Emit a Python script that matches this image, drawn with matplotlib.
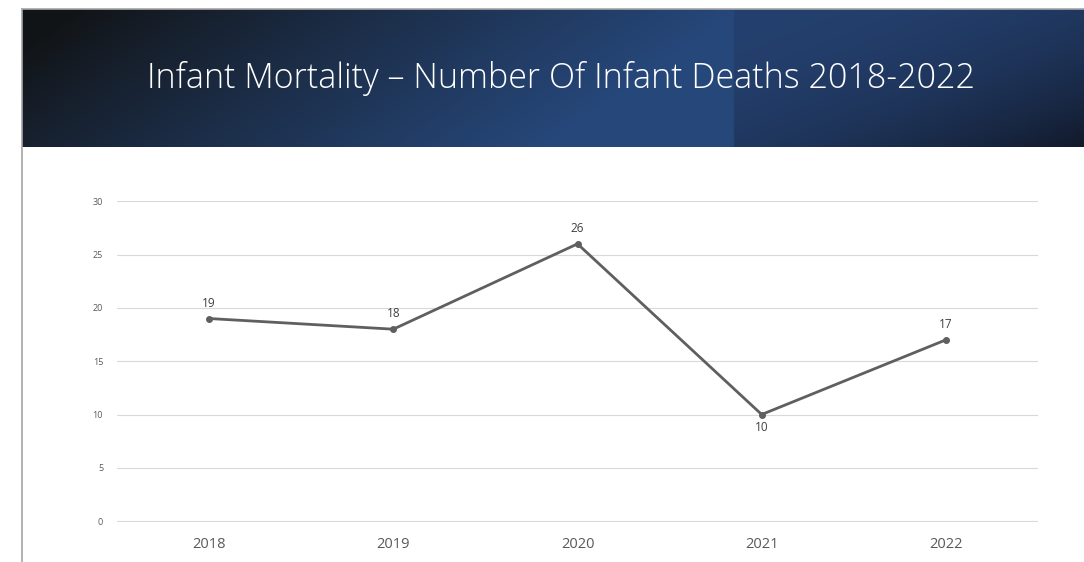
import numpy as np
import matplotlib.pyplot as plt
from matplotlib.lines import Line2D

years = ["2018", "2019", "2020", "2021", "2022"]
deaths = [19, 18, 26, 10, 17]
y_ticks = [0, 5, 10, 15, 20, 25, 30]
title = "Infant Mortality \u2013 Number Of Infant Deaths 2018-2022"

W, H = 1084, 562
fig = plt.figure(figsize=(W / 100, H / 100), dpi=100)
fig.patch.set_facecolor("white")

# banner with gradient
bx0, bx1, by0, by1 = 22, 1084, 9, 147
ban = fig.add_axes([bx0 / W, 1 - by1 / H, (bx1 - bx0) / W, (by1 - by0) / H])
ban.set_axis_off()
nx, ny = 540, 70
xs = np.linspace(bx0, bx1, nx)
ys = np.linspace(by0, by1, ny)
X, Y = np.meshgrid(xs, ys)
dark = np.array([0.07, 0.08, 0.09])
blue = np.array([0.15, 0.28, 0.48])
blue2 = np.array([0.14, 0.25, 0.43])
corner = np.array([0.07, 0.10, 0.17])
s = np.clip((X - 80 + (Y - 9) * 1.4) / 660, 0, 1)
s = s ** 0.9
img = dark[None, None, :] * (1 - s[..., None]) + blue[None, None, :] * s[..., None]
right = X > 735
r = np.clip(((X - 735) / 350) * 0.5 + ((Y - 9) / 138) * 0.5, 0, 1) ** 2.2
rimg = blue2[None, None, :] * (1 - r[..., None]) + corner[None, None, :] * r[..., None]
img[right] = rimg[right]
ban.imshow(img, aspect="auto", extent=[0, 1, 0, 1], origin="upper")
ban.set_xlim(0, 1)
ban.set_ylim(0, 1)

fig.text(561 / W, 1 - 79 / H, title, color="white", fontsize=24.5,
         family="Open Sans", fontweight="light", ha="center", va="center")

# borders
fig.add_artist(Line2D([bx0 / W, 1], [1 - 8.5 / H, 1 - 8.5 / H], color="#a6a6a6", lw=1.2))
fig.add_artist(Line2D([bx0 / W, bx0 / W], [0, 1 - 8.5 / H], color="#a6a6a6", lw=1.2))

# chart
ax = fig.add_axes([117 / W, 40 / H, (1038 - 117) / W, (522 - 201) / H])
x = np.arange(len(years))
ax.plot(x, deaths, color="#5f5f5f", lw=2, marker="o", ms=4, zorder=3)
for xi, v in zip(x, deaths):
    if v == min(deaths):
        ax.annotate(str(v), (xi, v), xytext=(0, -9.5), textcoords="offset points",
                    ha="center", va="center", fontsize=8.5, color="#404040", family="Open Sans")
    else:
        ax.annotate(str(v), (xi, v), xytext=(0, 11), textcoords="offset points",
                    ha="center", va="center", fontsize=8.5, color="#404040", family="Open Sans")

ax.set_xlim(-0.5, len(years) - 0.5)
ax.set_ylim(-0.08, 30.02)
ax.set_yticks(y_ticks)
ax.set_xticks(x)
ax.set_xticklabels(years)
ax.grid(axis="y", color="#d9d9d9", lw=0.8)
ax.set_axisbelow(True)
for sp in ax.spines.values():
    sp.set_visible(False)
ax.tick_params(axis="y", length=0, labelsize=6.5, labelcolor="#595959", pad=10)
ax.tick_params(axis="x", length=0, labelsize=10.5, labelcolor="#595959", pad=11)
for lab in ax.get_xticklabels() + ax.get_yticklabels():
    lab.set_family("Open Sans")

fig.savefig("out.png", dpi=100)
